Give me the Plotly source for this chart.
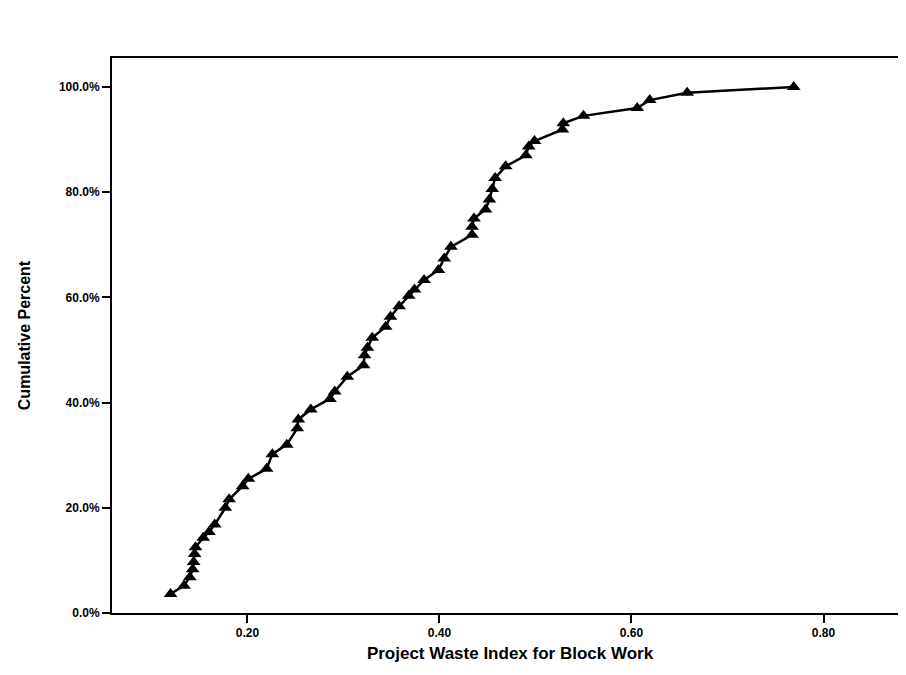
import plotly.graph_objects as go

# Project waste index (x) and cumulative percent (y)
waste_index = [0.120, 0.134, 0.140, 0.143, 0.144, 0.145, 0.146, 0.154, 0.160, 0.166,
               0.177, 0.181, 0.195, 0.201, 0.220, 0.226, 0.241, 0.252, 0.253, 0.266,
               0.286, 0.291, 0.304, 0.321, 0.322, 0.325, 0.330, 0.344, 0.349, 0.358,
               0.368, 0.374, 0.384, 0.399, 0.405, 0.412, 0.434, 0.434, 0.436, 0.448,
               0.452, 0.455, 0.458, 0.469, 0.490, 0.493, 0.499, 0.528, 0.529, 0.550,
               0.606, 0.619, 0.658, 0.769]
cumulative_percent = [3.6, 5.2, 6.8, 8.3, 9.7, 11.2, 12.5, 14.3, 15.4, 16.8,
                      20.0, 21.6, 24.1, 25.5, 27.4, 30.2, 32.0, 35.1, 36.8, 38.7,
                      40.7, 42.1, 44.9, 47.1, 49.0, 50.4, 52.3, 54.4, 56.3, 58.3,
                      60.3, 61.5, 63.3, 65.2, 67.4, 69.6, 71.9, 73.4, 75.0, 76.7,
                      78.6, 80.6, 82.7, 84.9, 87.0, 88.7, 89.7, 91.9, 93.1, 94.5,
                      96.0, 97.5, 98.9, 100.0]

x_ticks = [0.20, 0.40, 0.60, 0.80]
x_tick_labels = ["0.20", "0.40", "0.60", "0.80"]
y_ticks = [0, 20, 40, 60, 80, 100]
y_tick_labels = ["0.0%", "20.0%", "40.0%", "60.0%", "80.0%", "100.0%"]

font_family = "Liberation Sans, Arial, sans-serif"

fig = go.Figure()
fig.add_trace(go.Scatter(
    x=waste_index, y=cumulative_percent,
    mode="lines+markers",
    line=dict(color="black", width=2.5),
    marker=dict(symbol="triangle-up", size=12, color="black"),
    showlegend=False,
))

fig.update_layout(
    width=906, height=675,
    margin=dict(l=104, r=6, t=50, b=70),
    paper_bgcolor="white", plot_bgcolor="white",
    font=dict(family=font_family, color="black"),
    xaxis=dict(
        range=[0.059, 0.888],
        tickvals=x_ticks, ticktext=x_tick_labels,
        ticks="outside", ticklen=8, tickwidth=2, tickcolor="black",
        showline=True, linecolor="black", linewidth=2, mirror=True,
        showgrid=False, zeroline=False, automargin=False,
        tickfont=dict(size=12, weight="bold"),
        title=dict(text="Project Waste Index for Block Work",
                   font=dict(size=17, weight="bold"), standoff=8),
    ),
    yaxis=dict(
        range=[0, 105.5],
        tickvals=y_ticks, ticktext=y_tick_labels,
        ticks="outside", ticklen=8, tickwidth=2, tickcolor="black",
        showline=True, linecolor="black", linewidth=2, mirror=True,
        showgrid=False, zeroline=False, automargin=False,
        tickfont=dict(size=12, weight="bold"),
        title=dict(text="Cumulative Percent",
                   font=dict(size=16, weight="bold"), standoff=24),
    ),
)

fig.write_html("out.html")
